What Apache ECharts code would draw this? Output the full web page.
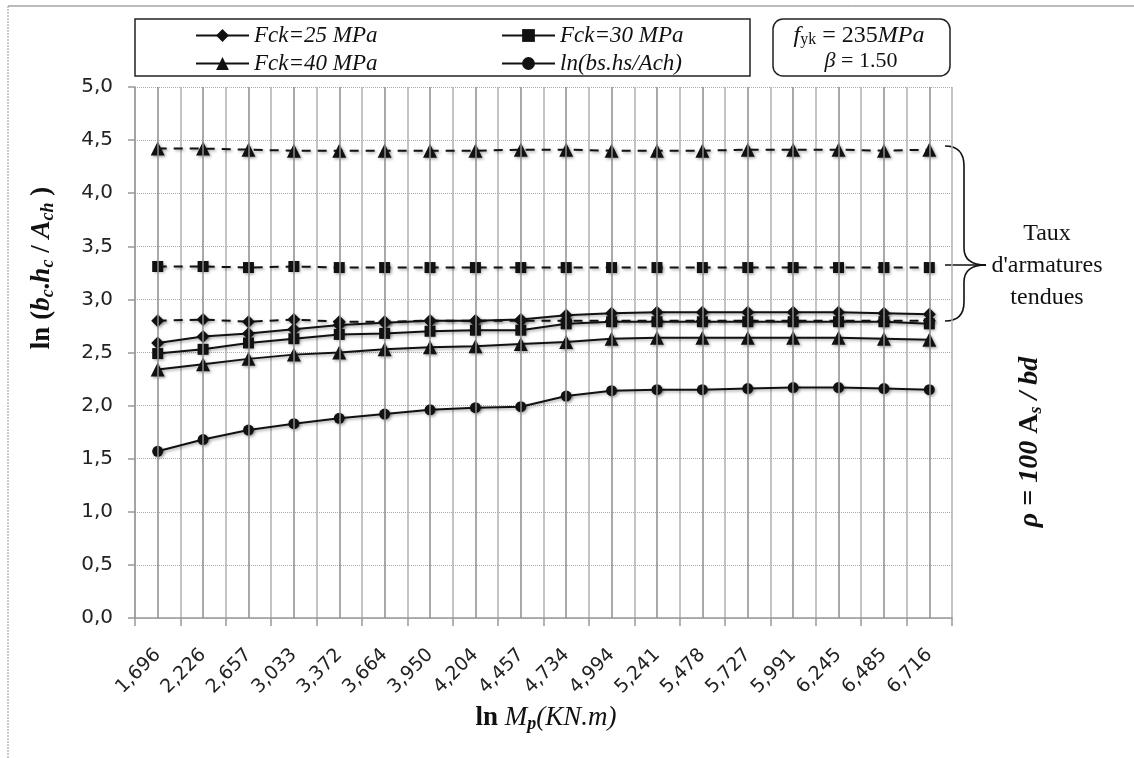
<!DOCTYPE html>
<html><head><meta charset="utf-8">
<script src="https://cdn.jsdelivr.net/npm/echarts@6/dist/echarts.min.js"></script>
<style>html,body{margin:0;padding:0;background:#fff}#c{width:1134px;height:758px}</style>
</head><body><div id="c"></div>
<script>
const categories = ['1,696','2,226','2,657','3,033','3,372','3,664','3,950','4,204','4,457','4,734','4,994','5,241','5,478','5,727','5,991','6,245','6,485','6,716'];
const fck25 = [2.59,2.65,2.68,2.72,2.76,2.78,2.80,2.80,2.81,2.85,2.87,2.88,2.88,2.88,2.88,2.88,2.87,2.86];
const fck30 = [2.49,2.53,2.59,2.63,2.67,2.68,2.70,2.71,2.71,2.77,2.79,2.79,2.79,2.79,2.79,2.79,2.79,2.77];
const fck40 = [2.34,2.39,2.44,2.48,2.50,2.53,2.55,2.56,2.58,2.60,2.63,2.64,2.64,2.64,2.64,2.64,2.63,2.62];
const lnRatio = [1.57,1.68,1.77,1.83,1.88,1.92,1.96,1.98,1.99,2.09,2.14,2.15,2.15,2.16,2.17,2.17,2.16,2.15];
const rho25 = [2.80,2.81,2.79,2.81,2.79,2.79,2.80,2.80,2.80,2.80,2.80,2.80,2.80,2.80,2.80,2.80,2.80,2.80];
const rho30 = [3.31,3.31,3.30,3.31,3.30,3.30,3.30,3.30,3.30,3.30,3.30,3.30,3.30,3.30,3.30,3.30,3.30,3.30];
const rho40 = [4.42,4.42,4.41,4.40,4.40,4.40,4.40,4.40,4.41,4.41,4.40,4.40,4.40,4.41,4.41,4.41,4.40,4.41];
const legendNames = ['Fck=25 MPa','Fck=30 MPa','Fck=40 MPa','ln(bs.hs/Ach)'];

const SERIF = 'Liberation Serif';
const shadow = {shadowColor:'rgba(0,0,0,0.35)', shadowBlur:3, shadowOffsetX:1.5, shadowOffsetY:1.5};
function mk(name, data, symbol, size, dashed){
  return {name, type:'line', data, symbol, symbolSize:size, showSymbol:true, z:4,
    lineStyle:Object.assign({color:'#111', width:2, type: dashed ? [9,7] : 'solid'}, shadow),
    itemStyle:Object.assign({color:'#111'}, shadow), animation:false};
}
const braceStyle = {fill:'none', stroke:'#111', lineWidth:1.6};
function bz(x1,y1,cx,cy,x2,y2){ return {type:'bezierCurve', silent:true, shape:{x1,y1,cpx1:cx,cpy1:cy,x2,y2}, style:braceStyle}; }
function ln(x1,y1,x2,y2){ return {type:'line', silent:true, shape:{x1,y1,x2,y2}, style:braceStyle}; }

const chart = echarts.init(document.getElementById('c'), null, {renderer:'canvas'});
const legendText = {fontFamily:SERIF, fontStyle:'italic', fontSize:23, color:'#111', lineHeight:22};
chart.setOption({
  backgroundColor:'#fff',
  animation:false,
  grid:{left:135, right:182, top:87, bottom:140, containLabel:false},
  legend:[
    {data:[legendNames[0], legendNames[2]], left:195, top:24, orient:'vertical', itemWidth:53, itemHeight:16, itemGap:5, padding:0, textStyle:legendText},
    {data:[legendNames[1], legendNames[3]], left:501, top:24, orient:'vertical', itemWidth:53, itemHeight:16, itemGap:5, padding:0, textStyle:legendText}
  ],
  xAxis:{type:'category', data:categories, boundaryGap:true,
    axisLine:{lineStyle:{color:'#999', width:1.5}},
    axisTick:{show:true, length:8, lineStyle:{color:'#999', width:1.5}},
    axisLabel:{rotate:45, interval:0, margin:34, color:'#222', fontFamily:'DejaVu Sans', fontSize:19},
    splitLine:{show:true, interval:0, lineStyle:{color:'#b0b0b0', width:1.5}}},
  yAxis:{type:'value', min:0, max:5, interval:0.5,
    axisLine:{show:true, lineStyle:{color:'#999', width:1.5}},
    axisTick:{show:true, length:7, lineStyle:{color:'#999', width:1.5}},
    axisLabel:{margin:22, color:'#222', fontFamily:'DejaVu Sans', fontSize:20, formatter:v=>v.toFixed(1).replace('.',',')},
    splitLine:{show:true, lineStyle:{color:'#aaa', width:1, type:'dotted'}}},
  series:[
    {name:'centers', type:'line', data:[], z:1, markLine:{silent:true, symbol:'none', animation:false, label:{show:false},
      lineStyle:{color:'#8c8c8c', width:1.5, type:'solid'}, data:categories.map(c=>({xAxis:c}))}},
    mk('rho40', rho40, 'triangle', 14, true),
    mk('rho30', rho30, 'rect', 11, true),
    mk('rho25', rho25, 'diamond', 13, true),
    mk(legendNames[0], fck25, 'diamond', 13, false),
    mk(legendNames[1], fck30, 'rect', 11, false),
    mk(legendNames[2], fck40, 'triangle', 14, false),
    mk(legendNames[3], lnRatio, 'circle', 11, false)
  ],
  graphic:[
    {type:'line', shape:{x1:8, y1:6, x2:1134, y2:6}, style:{stroke:'#777', lineWidth:1}, silent:true},
    {type:'line', shape:{x1:8, y1:6, x2:8, y2:758}, style:{stroke:'#999', lineWidth:1, lineDash:[2,1]}, silent:true},
    {type:'rect', shape:{x:135, y:19, width:615, height:57}, style:{fill:'none', stroke:'#222', lineWidth:1.5}, silent:true},
    {type:'rect', shape:{x:773, y:19, width:177, height:57, r:10}, style:{fill:'none', stroke:'#222', lineWidth:1.5}, silent:true},
    {type:'text', x:859, y:36, silent:true, style:{text:'{i|f}{s|yk}{n| = 235}{i|MPa}', align:'center', verticalAlign:'middle',
      rich:{i:{fontFamily:SERIF, fontStyle:'italic', fontSize:24, lineHeight:24, fill:'#111'},
            n:{fontFamily:SERIF, fontSize:24, lineHeight:24, fill:'#111'},
            s:{fontFamily:SERIF, fontSize:16, lineHeight:14, verticalAlign:'bottom', fill:'#111'}}}},
    {type:'text', x:861, y:61, silent:true, style:{text:'{i|β}{n| = 1.50}', align:'center', verticalAlign:'middle',
      rich:{i:{fontFamily:SERIF, fontStyle:'italic', fontSize:22, fill:'#111'},
            n:{fontFamily:SERIF, fontSize:22, fill:'#111'}}}},
    bz(945,146, 964,146, 964,166), ln(964,166,964,248), bz(964,248, 964,265, 986,265),
    bz(986,265, 964,265, 964,282), ln(964,282,964,302), bz(964,302, 964,321, 945,321), ln(945,265,986,265),
    {type:'text', x:1047, y:266, silent:true, style:{text:'Taux\nd\'armatures\ntendues', align:'center', verticalAlign:'middle',
      fontFamily:SERIF, fontSize:24, lineHeight:32, fill:'#111'}},
    {type:'text', x:1030, y:442, rotation:Math.PI/2, silent:true, style:{text:'{bi|ρ = 100 }{b|A}{s|s}{bi| / bd}', align:'center', verticalAlign:'middle',
      rich:{bi:{fontFamily:SERIF, fontStyle:'italic', fontWeight:'bold', fontSize:28, lineHeight:30, fill:'#111'},
            b:{fontFamily:SERIF, fontWeight:'bold', fontSize:28, lineHeight:30, fill:'#111'},
            s:{fontFamily:SERIF, fontStyle:'italic', fontWeight:'bold', fontSize:18, lineHeight:16, verticalAlign:'bottom', fill:'#111'}}}},
    {type:'text', x:42, y:268, rotation:Math.PI/2, silent:true, style:{text:'{b|ln (}{bi|b}{s|c}{b|.}{bi|h}{s|c}{b| / }{bi|A}{s|ch}{b| )}', align:'center', verticalAlign:'middle',
      rich:{bi:{fontFamily:SERIF, fontStyle:'italic', fontWeight:'bold', fontSize:27, lineHeight:30, fill:'#111'},
            b:{fontFamily:SERIF, fontWeight:'bold', fontSize:27, lineHeight:30, fill:'#111'},
            s:{fontFamily:SERIF, fontStyle:'italic', fontWeight:'bold', fontSize:18, lineHeight:15, verticalAlign:'bottom', fill:'#111'}}}},
    {type:'text', x:546, y:718, silent:true, style:{text:'{b|ln }{bi|M}{s|p}{i|(KN.m)}', align:'center', verticalAlign:'middle',
      rich:{bi:{fontFamily:SERIF, fontStyle:'italic', fontSize:27, lineHeight:30, fill:'#111'},
            b:{fontFamily:SERIF, fontWeight:'bold', fontSize:27, lineHeight:30, fill:'#111'},
            i:{fontFamily:SERIF, fontStyle:'italic', fontSize:27, lineHeight:30, fill:'#111'},
            s:{fontFamily:SERIF, fontStyle:'italic', fontWeight:'bold', fontSize:18, lineHeight:15, verticalAlign:'bottom', fill:'#111'}}}}
  ]
});
</script></body></html>
